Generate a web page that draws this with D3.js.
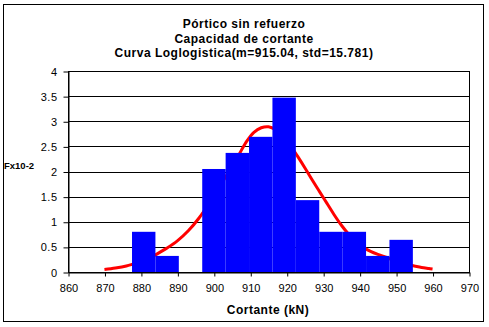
<!DOCTYPE html>
<html><head><meta charset="utf-8">
<script src="https://cdn.jsdelivr.net/npm/d3@7/dist/d3.min.js"></script>
<style>body{margin:0;background:#fff}svg{display:block}text{font-family:"Liberation Sans",Arial,sans-serif}</style>
</head><body><div id="chart"></div>
<script>
const titleLines = ["Pórtico sin refuerzo","Capacidad de cortante","Curva Loglogistica(m=915.04, std=15.781)"];
const binStarts = [877.56, 883.98, 890.40, 896.82, 903.24, 909.66, 916.08, 922.50, 928.92, 935.34, 941.76, 948.18];
const binWidth = 6.42;
const binValues = [0.80, 0.32, 0, 2.05, 2.37, 2.69, 3.47, 1.43, 0.80, 0.80, 0.32, 0.64];
const curveX = [870,873,876,878,880,882,884,887,890,893,896,899,902,905,907,909,911,913,915,917,919,921,923,925,927,929,931,933,935,937,939,941,943,945,947,949,951,953,955,957,959,960];
const curveY = [0.05,0.08,0.12,0.16,0.2,0.26,0.34,0.47,0.62,0.82,1.08,1.4,1.75,2.1,2.35,2.6,2.78,2.87,2.89,2.83,2.7,2.52,2.3,2.07,1.83,1.6,1.37,1.14,0.93,0.75,0.6,0.49,0.41,0.35,0.3,0.24,0.19,0.15,0.12,0.09,0.07,0.06];
const xTicks = [860,870,880,890,900,910,920,930,940,950,960,970];
const yTicks = [0,0.5,1,1.5,2,2.5,3,3.5,4];
const xTitle = "Cortante (kN)";
const yTitle = "Fx10-2";

const W = 489, H = 327;
const svg = d3.select("#chart").append("svg").attr("width", W).attr("height", H);
svg.append("rect").attr("x",3.5).attr("y",4.5).attr("width",480).attr("height",317)
  .attr("fill","#fff").attr("stroke","#000").attr("stroke-width",1);

const L = 68, R = 469, T = 71, B = 272;
const x = d3.scaleLinear().domain([860,970]).range([L,R]);
const y = d3.scaleLinear().domain([0,4]).range([B,T]);

// gridlines
svg.append("g").selectAll("line").data(yTicks.filter(d=>d>0)).join("line")
  .attr("x1",L).attr("x2",R).attr("y1",d=>Math.round(y(d))+0.5).attr("y2",d=>Math.round(y(d))+0.5)
  .attr("stroke","#000").attr("stroke-width",1);

// curve (behind bars)
svg.append("path").datum(curveX.map((c,i)=>[c,curveY[i]]))
  .attr("d", d3.line().x(d=>x(d[0])).y(d=>y(d[1])).curve(d3.curveCatmullRom))
  .attr("fill","none").attr("stroke","#FF0000").attr("stroke-width",3);

// bars
svg.append("g").selectAll("rect").data(binStarts.map((s,i)=>({s,v:binValues[i]}))).join("rect")
  .attr("x",d=>x(d.s)).attr("width",d=>x(d.s+binWidth)-x(d.s))
  .attr("y",d=>y(d.v)).attr("height",d=>B-y(d.v)).attr("fill","#0000FF");

// plot border
svg.append("rect").attr("x",L+0.5).attr("y",T+0.5).attr("width",R-L).attr("height",B-T)
  .attr("fill","none").attr("stroke","#000");

// axes
const xAxis = svg.append("g").attr("transform",`translate(0.5,${B+0.5})`)
  .call(d3.axisBottom(x).tickValues(xTicks).tickSize(4).tickSizeOuter(0).tickFormat(d3.format("d")));
const yAxis = svg.append("g").attr("transform",`translate(${L+0.5},0.5)`)
  .call(d3.axisLeft(y).tickValues(yTicks).tickSize(5).tickSizeOuter(0).tickFormat(d=>String(d)));
[xAxis,yAxis].forEach(g=>{
  g.select(".domain").attr("stroke","#000");
  g.selectAll(".tick line").attr("stroke","#000");
  g.selectAll("text").attr("fill","#000").style("font-size","11px").style("font-family","Liberation Sans, Arial, sans-serif");
});
xAxis.selectAll("text").attr("dy","0.71em").attr("y",12);
yAxis.selectAll("text").attr("x",-11).style("letter-spacing","0.5px");

// titles
svg.append("g").selectAll("text").data(titleLines).join("text")
  .attr("x",244).attr("y",(d,i)=>28+i*14.5).attr("text-anchor","middle")
  .style("font-size","12px").style("letter-spacing","0.5px").style("font-weight","bold").text(d=>d);
svg.append("text").attr("x",268).attr("y",314).attr("text-anchor","middle")
  .style("font-size","12px").style("letter-spacing","0.5px").style("font-weight","bold").text(xTitle);
svg.append("text").attr("x",4).attr("y",169).style("font-size","9.5px").style("font-weight","bold").text(yTitle);
</script></body></html>
